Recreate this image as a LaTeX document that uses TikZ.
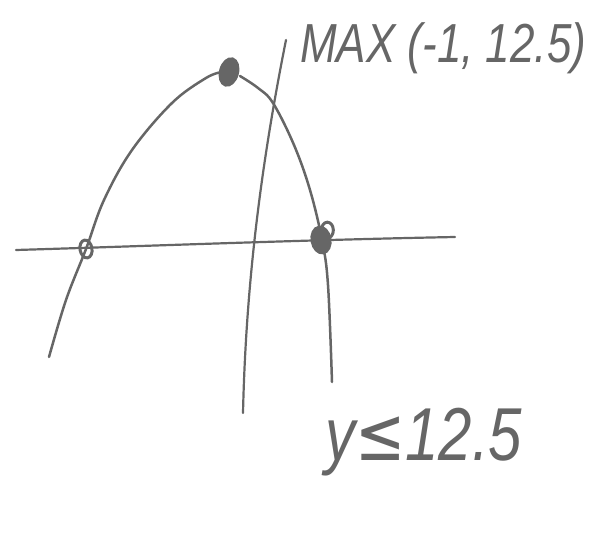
\documentclass[tikz,border=0pt]{standalone}
\usepackage{fontspec}
\setmainfont{Liberation Sans}
\newfontfamily\symfont{DejaVu Sans}
\usetikzlibrary{shapes.geometric}
\begin{document}
\begin{tikzpicture}[x=1pt,y=-1pt,
  ink/.style={draw=inkgray,line width=2.2pt,line cap=round,line join=round},
  curve/.style={ink,line width=2.5pt},
  blob/.style={ellipse,draw=inkgray,line width=3pt,inner sep=0pt},
  hand/.style={text=inkgray,inner sep=0pt,font=\itshape}]
\definecolor{inkgray}{HTML}{666666}
\useasboundingbox (0,0) rectangle (603,535);
% x-axis
\coordinate (xl) at (16,250);
\coordinate (xr) at (455,237);
\draw[ink] (xl) .. controls (150,246) and (300,240) .. (xr);
% y-axis
\coordinate (yt) at (286,40);
\coordinate (yb) at (243,413);
\draw[ink] (yt) .. controls (262,160) and (246,280) .. (yb);
% parabola
\draw[curve] plot[smooth,tension=0.6] coordinates {(49,357) (66,300) (86,249) (104,200) (132,150) (172,103) (206,78) (222,72)};
\draw[curve] plot[smooth,tension=0.6] coordinates {(240,76) (258,88) (273,103) (294,145) (310,190) (322,240) (328,285) (332,382)};
% points
\node[blob,fill=inkgray,minimum width=17pt,minimum height=27pt,rotate=-15] (vtx) at (229,72) {};
\node[blob,minimum width=12pt,minimum height=18pt,rotate=10] (r1) at (86,249) {};
\node[blob,fill=inkgray,minimum width=18pt,minimum height=26pt,rotate=10] (r2) at (321,240) {};
\draw[ink,line width=3pt] (r2.east) ++(-4,-8) ellipse (6pt and 8pt);
% labels
\node[hand,anchor=west,yscale=1.25,font=\itshape\fontsize{44}{44}\selectfont] (maxlbl) at (300,48) {MAX (-1, 12.5)};
\node[hand,anchor=west,yscale=1.25,font=\itshape\fontsize{60}{60}\selectfont] (ylbl) at (325,442) {y{\symfont\upshape ≤}12.5};
\end{tikzpicture}
\end{document}
